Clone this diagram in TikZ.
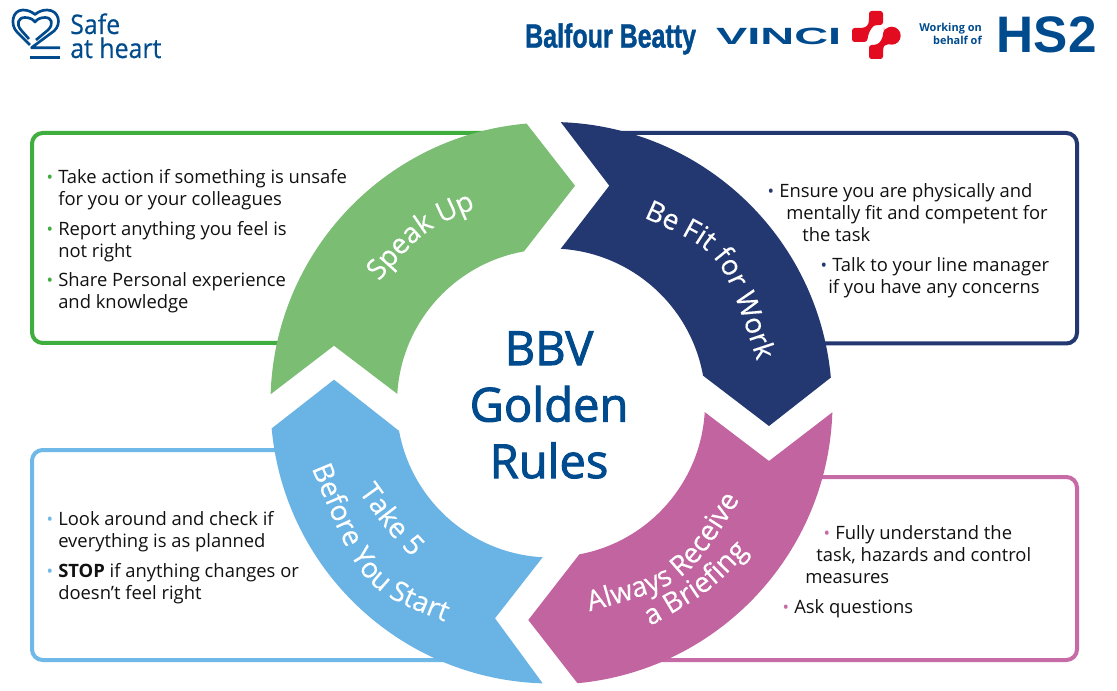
\documentclass[tikz,border=0pt]{standalone}
\usepackage{fontspec}
\setmainfont{Open Sans}
\newfontfamily\lib{Liberation Sans}
\usetikzlibrary{calc,decorations.text}
\definecolor{navytxt}{HTML}{004B8D}
\definecolor{gArrow}{HTML}{7ABD73}
\definecolor{gLine}{HTML}{40AD3F}
\definecolor{nArrow}{HTML}{233871}
\definecolor{pArrow}{HTML}{C1649F}
\definecolor{pLine}{HTML}{C76BA6}
\definecolor{bArrow}{HTML}{69B3E5}
\definecolor{bLine}{HTML}{6FB9E9}
\definecolor{vRed}{HTML}{E30B20}
\definecolor{ink}{HTML}{111111}
\tikzset{
  panel/.style={line width=3pt,rounded corners=8pt},
  txt/.style={inner sep=0pt,anchor=base west,text=ink,font=\fontsize{13.8}{16}\selectfont},
  logo/.style={inner sep=0pt,text=navytxt},
  arclabel/.style={decorate,decoration={text along path,text align=center,
    text={|\fontsize{21}{25}\selectfont\addfontfeature{FakeBold=0.3}\color{white}|#1}}},
}
\newcommand{\dotitem}[1]{\llap{\textcolor{#1}{\fontsize{13}{13}\selectfont•}\hspace{3.9pt}}}
\begin{document}
\begin{tikzpicture}[x=0.75pt,y=-0.75pt]
\useasboundingbox[fill=white] (0,0) rectangle (1117,691);
\coordinate (C) at (551,403);

% panels
\draw[panel,gLine] (490,133) -- (32,133) -- (32,343) -- (300,343);
\draw[panel,nArrow] (620,133) -- (1077,133) -- (1077,343.5) -- (800,343.5);
\draw[panel,pLine] (800,477) -- (1077,477) -- (1077,660) -- (640,660);
\draw[panel,bLine] (300,450) -- (32,450) -- (32,660) -- (460,660);

% arrows
\fill[gArrow] ($(C)+(-178.2:280.5)$) arc[start angle=-178.2,end angle=-95,radius=280.5]
  -- (575,185.7) -- ($(C)+(-100.1:154)$) arc[start angle=-100.1,end angle=-176.6,radius=154]
  -- (334,345.7) -- cycle;
\fill[nArrow] ($(C)+(-88:281)$) arc[start angle=-88,end angle=-5.2,radius=281]
  -- (769,426) -- ($(C)+(-10.2:154.5)$) arc[start angle=-10.2,end angle=-86.4,radius=154.5]
  -- (609.3,185.7) -- cycle;
\fill[pArrow] ($(C)+(1.9:281.5)$) arc[start angle=1.9,end angle=84.6,radius=281.5]
  -- (528.3,620) -- ($(C)+(79.4:154)$) arc[start angle=79.4,end angle=3.4,radius=154]
  -- (769,461) -- cycle;
\fill[bArrow] ($(C)+(-185.2:280.5)$) arc[start angle=-185.2,end angle=-268.3,radius=280.5]
  -- (495,618.3) -- ($(C)+(-266.9:154.5)$) arc[start angle=-266.9,end angle=-190.4,radius=154.5]
  -- (334,379.7) -- cycle;

% arrow labels, set along gently curved baselines
\path[arclabel={Speak Up}] (380,280) .. controls (424.4,230) .. (474,209);
\path[arclabel={Be Fit for Work}] (649.3,220) .. controls (721.2,252.5) .. (755,355);
\path[arclabel={Take 5}] (363.3,498.3) .. controls (385,528.4) .. (406.7,551.7);
\path[arclabel={Before You Start}] (310.7,466) .. controls (362.1,589.5) .. (447,622.5);
\path[arclabel={Always Receive}] (586,612.3) .. controls (686.4,584.7) .. (741.7,496.3);
\path[arclabel={a Briefing}] (650.7,626) .. controls (710.5,591.2) .. (748.3,551.7);

% centre title
\node[inner sep=0pt,align=center,text=navytxt,font=\fontsize{35.3}{42.4}\selectfont\addfontfeature{FakeBold=2}] (title) at (549,405) {BBV\\Golden\\Rules};

% green panel text
\node[txt] (g1) at (58,184) {\dotitem{gLine}Take action if something is unsafe};
\node[txt] (g2) at (58,206) {for you or your colleagues};
\node[txt] (g3) at (58,236) {\dotitem{gLine}Report anything you feel is};
\node[txt] (g4) at (58,258) {not right};
\node[txt] (g5) at (58,287) {\dotitem{gLine}Share Personal experience};
\node[txt] (g6) at (58,309) {and knowledge};

% navy panel text
\node[txt] (n1) at (779,198) {\dotitem{nArrow}Ensure you are physically and};
\node[txt] (n2) at (786,220) {mentally fit and competent for};
\node[txt] (n3) at (802,242) {the task};
\node[txt] (n4) at (832,272) {\dotitem{nArrow}Talk to your line manager};
\node[txt] (n5) at (828,294) {if you have any concerns};

% pink panel text
\node[txt] (p1) at (835,539) {\dotitem{pLine}Fully understand the};
\node[txt] (p2) at (816,561) {task, hazards and control};
\node[txt] (p3) at (805,583) {measures};
\node[txt] (p4) at (794,613) {\dotitem{pLine}Ask questions};

% blue panel text
\node[txt] (b1) at (58,525) {\dotitem{bLine}Look around and check if};
\node[txt] (b2) at (58,547) {everything is as planned};
\node[txt] (b3) at (58,577) {\dotitem{bLine}\textbf{STOP} if anything changes or};
\node[txt] (b4) at (58,599) {doesn’t feel right};

% Safe at heart logo
\draw[navytxt,line width=2pt,line join=round,line cap=butt]
  (60,47.7) -- (31.5,47.7) -- (54,31) .. controls (62,24) and (59,10) .. (47,10)
  .. controls (42,10) and (38,12) .. (35,14.5) .. controls (32,12) and (28,10) .. (23,10)
  .. controls (12,10) and (10,25) .. (17,32) -- (30,45);
\draw[navytxt,line width=2pt,line join=round]
  (29,39) -- (21,30) .. controls (16,24) and (18,17.5) .. (25,17.5)
  .. controls (29,17.5) and (33,19) .. (35,22) .. controls (37,19) and (41,17.5) .. (45,17.5)
  .. controls (52,17.5) and (54,24) .. (48,30) -- (36,40);
\draw[navytxt,line width=2pt] (29.5,57.5) -- (60,57.5);
\node[logo,anchor=base west,xscale=0.92,font=\fontsize{20.3}{20}\selectfont\addfontfeature{FakeBold=0.4}] (safe) at (70,34) {Safe};
\node[logo,anchor=base west,xscale=0.92,font=\fontsize{20.3}{20}\selectfont\addfontfeature{FakeBold=0.4}] (heart) at (70,58) {at heart};

% Balfour Beatty
\node[logo,anchor=base west,font=\lib\bfseries\fontsize{25}{25}\selectfont\addfontfeature{FakeBold=1.5},xscale=0.75] (bb) at (525,47.5) {Balfour Beatty};

% VINCI
\node[logo,anchor=base west,font=\lib\bfseries\fontsize{17.6}{17}\selectfont,xscale=2.0] (vinci) at (715.5,45) {VINCI};
\fill[vRed,rounded corners=2pt] (869,11) -- (883,11) -- (883,25) -- (877,25) .. controls (873,26) and (870,30) .. (868,36) -- (867,42) -- (852,42) -- (852,28) -- (862,28) .. controls (866,27) and (868,25) .. (869,21) -- cycle;
\fill[vRed] (891.7,35.7) circle[radius=9];
\fill[vRed,rounded corners=2pt] (884,30) -- (892,44) .. controls (887,44) and (884,46) .. (883,49) -- (883,59) -- (869,59) -- (869,45) -- (875,45) .. controls (880,43) and (883,38) .. cycle;

% HS2
\node[logo,anchor=base east,font=\fontsize{8.2}{9.8}\selectfont\bfseries] (work1) at (982,32) {Working on};
\node[logo,anchor=base east,font=\fontsize{8.2}{9.8}\selectfont\bfseries] (work2) at (982,45) {behalf of};
\node[logo,anchor=base west,font=\lib\bfseries\fontsize{38.5}{38}\selectfont] (hs2) at (996.5,52.5) {HS2};
\end{tikzpicture}
\end{document}
